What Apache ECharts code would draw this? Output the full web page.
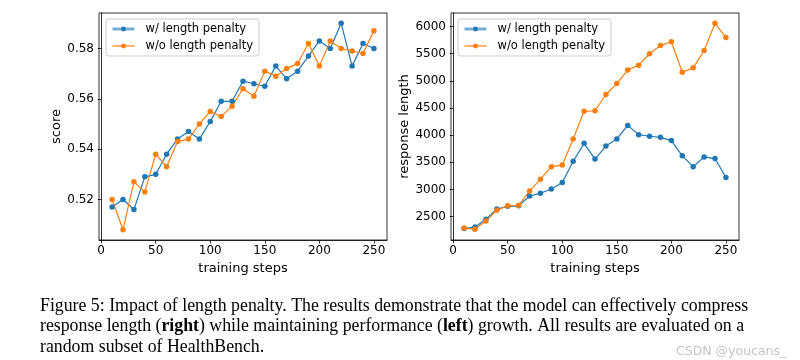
<!DOCTYPE html>
<html>
<head>
<meta charset="utf-8">
<script src="https://cdn.jsdelivr.net/npm/echarts@6/dist/echarts.min.js"></script>
<style>
html,body{margin:0;padding:0;background:#fff;}
#c{width:800px;height:360px;}
</style>
</head>
<body>
<div id="c"></div>
<script>
// ---- data ----
var steps = [10,20,30,40,50,60,70,80,90,100,110,120,130,140,150,160,170,180,190,200,210,220,230,240,250];
var scoreWith = [0.517,0.520,0.516,0.529,0.530,0.538,0.544,0.547,0.544,0.551,0.559,0.559,0.567,0.566,0.565,0.573,0.568,0.571,0.577,0.583,0.580,0.590,0.573,0.582,0.580];
var scoreWithout = [0.520,0.508,0.527,0.523,0.538,0.533,0.543,0.544,0.550,0.555,0.553,0.557,0.564,0.561,0.571,0.569,0.572,0.574,0.582,0.573,0.583,0.580,0.579,0.578,0.587];
var lenWith = [2280,2310,2450,2640,2690,2700,2880,2930,3010,3130,3520,3850,3560,3800,3930,4180,4010,3980,3960,3900,3620,3420,3600,3570,3220];
var lenWithout = [2290,2270,2420,2620,2700,2710,2970,3190,3420,3450,3930,4440,4450,4750,4950,5200,5290,5500,5650,5720,5160,5240,5560,6060,5800];
var xTicks = [0,50,100,150,200,250];
var scoreTicks = [0.52,0.54,0.56,0.58];
var lenTicks = [2500,3000,3500,4000,4500,5000,5500,6000];
var seriesNames = ['w/ length penalty','w/o length penalty'];
var captionLines = [
  'Figure 5: Impact of length penalty. The results demonstrate that the model can effectively compress',
  'response length ({b|right}) while maintaining performance ({b|left}) growth. All results are evaluated on a',
  'random subset of HealthBench.'
];
var watermark = 'CSDN @youcans_';

// ---- chart ----
var BLUE = '#1f77b4', ORANGE = '#ff7f0e';
var FONT = 'DejaVu Sans';
function pairs(xs, ys){ return xs.map(function(x,i){ return [x, ys[i]]; }); }

function xAxis(gi){
  return {
    gridIndex: gi, type: 'value', min: -2, max: 262,
    name: 'training steps', nameLocation: 'middle', nameGap: 18,
    nameTextStyle: {fontFamily: FONT, fontSize: 13, color: '#000'},
    axisLine: {show: true, lineStyle: {color: '#000', width: 0.8}},
    axisTick: {show: true, length: 3.5, lineStyle: {color: '#000', width: 0.8}, customValues: xTicks},
    axisLabel: {fontFamily: FONT, fontSize: 12, color: '#000', margin: 5, customValues: xTicks},
    splitLine: {show: false}
  };
}
function yAxis(gi, min, max, ticks, name, gap, fmt){
  return {
    gridIndex: gi, type: 'value', min: min, max: max,
    name: name, nameLocation: 'middle', nameGap: gap, nameRotate: 90,
    nameTextStyle: {fontFamily: FONT, fontSize: 13, color: '#000'},
    axisLine: {show: true, lineStyle: {color: '#000', width: 0.8}},
    axisTick: {show: true, length: 3.5, lineStyle: {color: '#000', width: 0.8}, customValues: ticks},
    axisLabel: {fontFamily: FONT, fontSize: 12, color: '#000', margin: 5, customValues: ticks, formatter: fmt},
    splitLine: {show: false}
  };
}
function lineSeries(name, gi, ys, color){
  return {
    name: name, type: 'line', xAxisIndex: gi, yAxisIndex: gi,
    data: pairs(steps, ys), symbol: 'circle', symbolSize: 5.5, showSymbol: true,
    lineStyle: {color: color, width: 1.2}, itemStyle: {color: color},
    emphasis: {disabled: true}, z: 3
  };
}
function legend(left){
  return {
    left: left, top: 19, orient: 'vertical',
    backgroundColor: '#fff', borderColor: '#cccccc', borderWidth: 1, borderRadius: 3,
    padding: [4, 6, 4, 5], itemGap: 5, itemWidth: 22, itemHeight: 6,
    textStyle: {fontFamily: FONT, fontSize: 11.5, color: '#000', padding: [0,0,0,6]},
    data: [
      {name: seriesNames[0], lineStyle: {color: 'rgba(31,119,180,0.6)', width: 3}, itemStyle: {color: BLUE}},
      {name: seriesNames[1], lineStyle: {color: ORANGE, width: 1.2}, itemStyle: {color: ORANGE}}
    ],
    selectedMode: false
  };
}

var titles = captionLines.map(function(t, i){
  return {
    text: t, left: 40, top: 296 + i * 20.5, padding: 0,
    textStyle: {fontFamily: 'Liberation Serif', fontSize: 17.8, fontWeight: 'normal', color: '#000', lineHeight: 20,
      rich: {b: {fontFamily: 'Liberation Serif', fontSize: 17.8, fontWeight: 'bold', color: '#000', lineHeight: 20}}}
  };
});
titles.push({
  text: watermark, left: 676, top: 345, padding: 0,
  textStyle: {fontFamily: 'DejaVu Sans', fontSize: 12.5, fontWeight: 'normal', color: '#c4c4c4'}
});

var chart = echarts.init(document.getElementById('c'), null, {renderer: 'canvas'});
chart.setOption({
  animation: false,
  backgroundColor: '#fff',
  title: titles,
  legend: [legend(106), legend(458)],
  grid: [
    {left: 99, top: 13, width: 288, height: 227, show: true, borderColor: '#000', borderWidth: 0.8, backgroundColor: 'transparent'},
    {left: 451, top: 13, width: 288, height: 227, show: true, borderColor: '#000', borderWidth: 0.8, backgroundColor: 'transparent'}
  ],
  xAxis: [xAxis(0), xAxis(1)],
  yAxis: [
    yAxis(0, 0.5039, 0.5941, scoreTicks, 'score', 34, function(v){ return v.toFixed(2); }),
    yAxis(1, 2070, 6250, lenTicks, 'response length', 38, function(v){ return String(v); })
  ],
  series: [
    lineSeries(seriesNames[0], 0, scoreWith, BLUE),
    lineSeries(seriesNames[1], 0, scoreWithout, ORANGE),
    lineSeries(seriesNames[0], 1, lenWith, BLUE),
    lineSeries(seriesNames[1], 1, lenWithout, ORANGE)
  ]
});
</script>
</body>
</html>
